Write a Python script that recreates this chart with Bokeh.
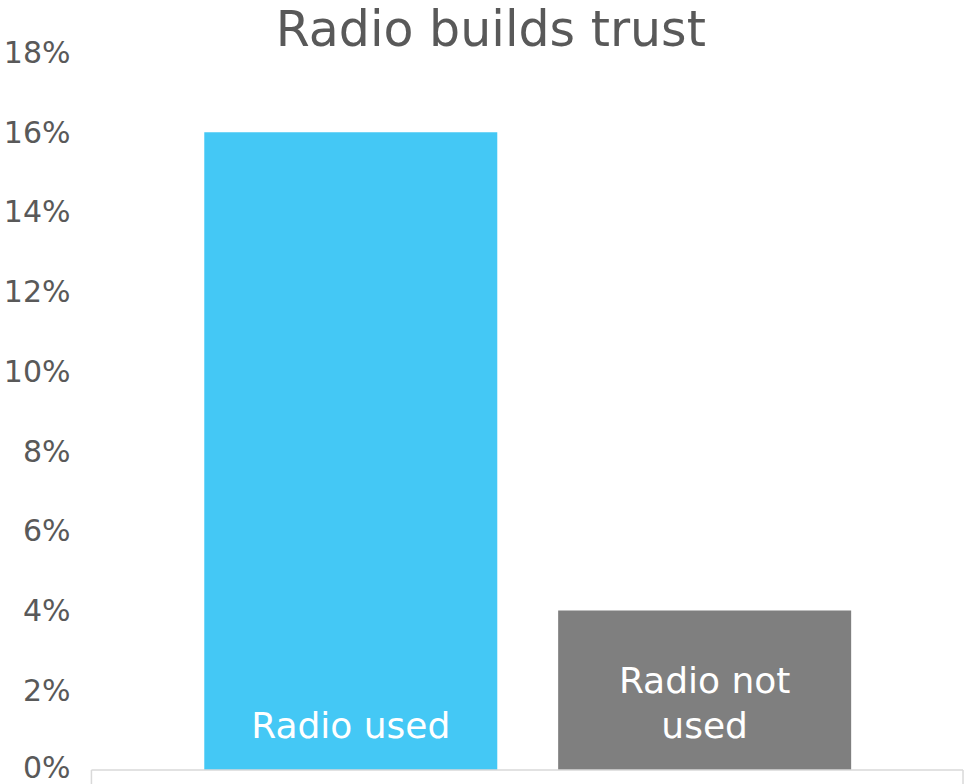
from bokeh.plotting import figure
from bokeh.models import Range1d, FixedTicker, ColumnDataSource
from bokeh.core.properties import value
from bokeh.embed import file_html
from bokeh.resources import INLINE

# ---- data ----
categories = ["Radio used", "Radio not used"]
values = [16, 4]
label_lines = [["Radio used"], ["Radio not", "used"]]
bar_colors = ["#44C8F5", "#7F7F7F"]
y_ticks = [0, 2, 4, 6, 8, 10, 12, 14, 16, 18]
y_tick_labels = ["0%", "2%", "4%", "6%", "8%", "10%", "12%", "14%", "16%", "18%"]
title_text = "Radio builds trust"

# ---- layout constants (figure pixels) ----
W, H = 964, 784
FRAME_LEFT = 75
PX_PER_CAT = 357.5
FIRST_CENTER = 344.0 - FRAME_LEFT   # px from frame left to first category centre
ZERO_Y = 769.5                      # figure px of 0 %
TOP_TICK_Y = 52.0                   # figure px of 18 %
Y_MAX = 18
px_per_unit = (ZERO_Y - TOP_TICK_Y) / Y_MAX
y_start = -(H - ZERO_Y) / px_per_unit
y_end = Y_MAX + TOP_TICK_Y / px_per_unit
frame_w = W - FRAME_LEFT
x_start = 1 - FIRST_CENTER / PX_PER_CAT
x_end = x_start + frame_w / PX_PER_CAT
box_left = x_start + (82 - FRAME_LEFT) / PX_PER_CAT
box_right = x_start + (962.5 - FRAME_LEFT) / PX_PER_CAT

FONT = "DejaVu Sans"
TXT = "#595959"
MID = 0.346          # baseline drop below a "middle" anchor, in em

p = figure(width=W, height=H, x_range=Range1d(x_start, x_end),
           y_range=Range1d(y_start, y_end),
           x_axis_location=None, toolbar_location=None, output_backend="svg",
           min_border_left=FRAME_LEFT, min_border_right=0,
           min_border_top=0, min_border_bottom=0,
           outline_line_color=None)
p.grid.visible = False

xs = [i + 1 for i in range(len(categories))]
src = ColumnDataSource(dict(x=xs, top=values, color=bar_colors, cat=categories))
p.vbar(x="x", top="top", bottom=0, width=296 / PX_PER_CAT, color="color",
       line_color=None, source=src)

# box lines below bars
p.segment(x0=[box_left], y0=[0], x1=[box_right], y1=[0],
          line_color="#D9D9D9", line_width=1.5)
p.segment(x0=[box_left, box_right], y0=[0, 0], x1=[box_left, box_right],
          y1=[y_start, y_start], line_color="#D9D9D9", line_width=1.5)

# bar labels
LBL_SIZE = 36
tx, ty, tt, toff = [], [], [], []
for i, lines in enumerate(label_lines):
    n = len(lines)
    for j, line in enumerate(lines):
        tx.append(xs[i])
        ty.append(0)
        tt.append(line)
        toff.append(-32.5 - 45 * (n - 1 - j) - MID * LBL_SIZE)
p.text(x=tx, y=ty, text=tt, y_offset=toff, text_align="center",
       text_baseline="middle", text_color="white",
       text_font=value(FONT), text_font_size=f"{LBL_SIZE}px")

# y axis
ax = p.yaxis[0]
ax.ticker = FixedTicker(ticks=y_ticks)
ax.major_label_overrides = {t: l for t, l in zip(y_ticks, y_tick_labels)}
ax.axis_line_color = None
ax.major_tick_line_color = None
ax.minor_tick_line_color = None
ax.major_label_standoff = 8
ax.major_label_text_font = FONT
ax.major_label_text_font_size = "30px"
ax.major_label_text_color = TXT

# title (text glyph inside the frame, above the 18 % line)
TITLE_SIZE = 49
title_x = x_start + (485.5 - FRAME_LEFT) / PX_PER_CAT
title_base = 45.5
title_y = Y_MAX + (TOP_TICK_Y - (title_base - MID * TITLE_SIZE)) / px_per_unit
p.text(x=[title_x], y=[title_y], text=[title_text], text_align="center",
       text_baseline="middle", text_font=value(FONT),
       text_font_size=f"{TITLE_SIZE}px", text_color=TXT)

open("out.html", "w").write(file_html(p, INLINE))
